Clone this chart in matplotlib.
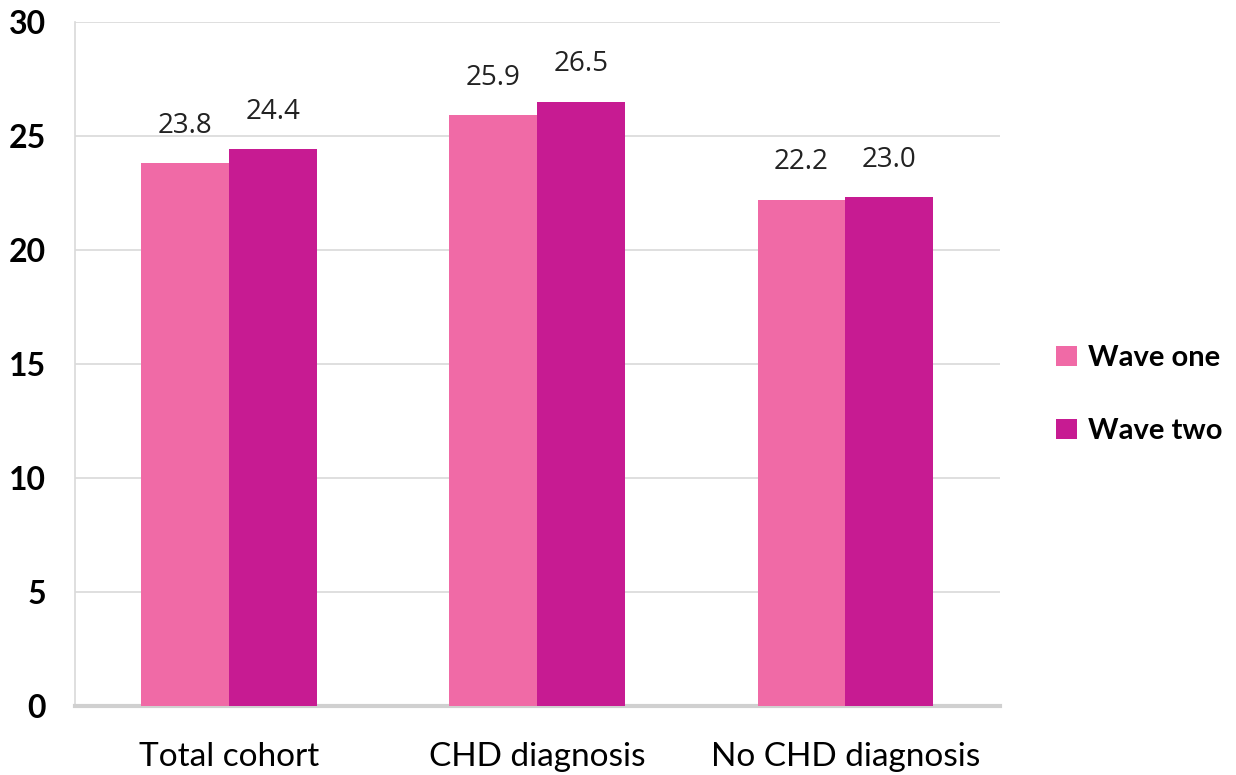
import numpy as np
import matplotlib
matplotlib.use("Agg")
import matplotlib.pyplot as plt

# values
categories = ["Total cohort", "CHD diagnosis", "No CHD diagnosis"]
wave_one = [23.8, 25.9, 22.2]
wave_two = [24.4, 26.5, 22.3]
# printed labels (the No CHD wave-two label reads 23.0 in the source)
labels_one = ["23.8", "25.9", "22.2"]
labels_two = ["24.4", "26.5", "23.0"]
yticks = [0, 5, 10, 15, 20, 25, 30]

narrow = ["Lato", "DejaVu Sans"]

fig = plt.figure(figsize=(12.36, 7.75), dpi=100)
ax = fig.add_axes([0.0607, 0.089, 0.748, 0.883])

x = np.arange(len(categories))
w = 0.285
b1 = ax.bar(x - w/2, wave_one, w, color="#F06AA6", label="Wave one", zorder=3)
b2 = ax.bar(x + w/2, wave_two, w, color="#C71B92", label="Wave two", zorder=3)

for bars, labs in [(b1, labels_one), (b2, labels_two)]:
    for r, t in zip(bars, labs):
        ax.annotate(t, (r.get_x() + r.get_width()/2, r.get_height()),
                    xytext=(0, 17), textcoords="offset points",
                    ha="center", va="bottom", fontsize=20, color="#222222",
                    family=["Open Sans", "DejaVu Sans"])

ax.set_xlim(-0.5, 2.5)
ax.set_ylim(0, 30)
ax.set_yticks(yticks)
ax.set_yticklabels([str(t) for t in yticks], family=narrow, fontsize=23,
                   fontweight="bold")
ax.set_xticks(x)
ax.set_xticklabels(categories, family=narrow, fontsize=24)
ax.tick_params(axis="y", length=0, pad=21)
ax.tick_params(axis="x", length=0, pad=26)

ax.yaxis.grid(True, color="#D9D9D9", linewidth=1.2, zorder=0)
for s in ["top", "right"]:
    ax.spines[s].set_visible(False)
ax.spines["left"].set_color("#D9D9D9")
ax.spines["left"].set_linewidth(1.2)
ax.spines["bottom"].set_color("#D0D0D0")
ax.spines["bottom"].set_linewidth(3)

leg = ax.legend(loc="center left", bbox_to_anchor=(1.033, 0.455), frameon=False,
                prop={"family": narrow, "size": 21, "weight": "bold"},
                handlelength=0.7, handleheight=0.7, handletextpad=0.4,
                labelspacing=1.6)

fig.savefig("out.png", dpi=100)
